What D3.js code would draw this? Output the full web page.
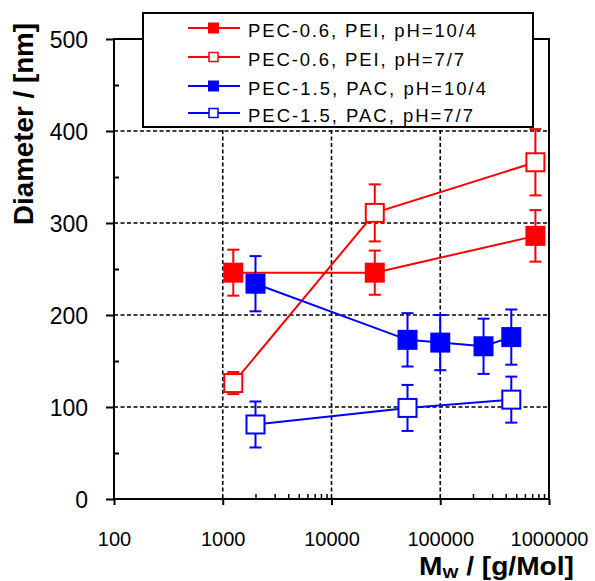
<!DOCTYPE html>
<html>
<head>
<meta charset="utf-8">
<script src="https://d3js.org/d3.v7.min.js"></script>
<style>
  html, body { margin: 0; padding: 0; background: #fff; }
  svg { display: block; font-family: "Liberation Sans", Arial, sans-serif; }
</style>
</head>
<body>
<svg id="chart" width="595" height="581"></svg>
<script>
// ---- Data ----
const seriesNames = ["PEC-0.6, PEI, pH=10/4", "PEC-0.6, PEI, pH=7/7", "PEC-1.5, PAC, pH=10/4", "PEC-1.5, PAC, pH=7/7"];
const mw1 = [1250, 25000, 750000];
const d1  = [246, 246, 286];
const e1  = [25, 24, 28];
const mw2 = [1250, 25000, 750000];
const d2  = [126, 311, 366];
const e2  = [12, 31, 36];
const mw3 = [2000, 50000, 100000, 250000, 450000];
const d3v = [234, 173, 170, 166, 176];
const e3  = [30, 29, 30, 30, 30];
const mw4 = [2000, 50000, 450000];
const d4  = [81, 99, 108];
const e4  = [25, 25, 25];
const xTicks = [100, 1000, 10000, 100000, 1000000];
const yTicks = [0, 100, 200, 300, 400, 500];
const xTickLabels = ["100", "1000", "10000", "100000", "1000000"];

const series = [
  {name: seriesNames[0], x: mw1, y: d1, e: e1, color: "#ff0000", filled: true},
  {name: seriesNames[1], x: mw2, y: d2, e: e2, color: "#ff0000", filled: false},
  {name: seriesNames[2], x: mw3, y: d3v, e: e3, color: "#0000ff", filled: true},
  {name: seriesNames[3], x: mw4, y: d4, e: e4, color: "#0000ff", filled: false}
];

// ---- Layout ----
const L = 114, R = 549, T = 39, B = 499;
const svg = d3.select("#chart");
const x = d3.scaleLog().domain([100, 1000000]).range([L, R]);
const y = d3.scaleLinear().domain([0, 500]).range([B, T]);

// grid
const grid = svg.append("g").attr("stroke", "#000").attr("stroke-width", 1.6).attr("stroke-dasharray", "4,2.5");
[1000, 10000, 100000].forEach(v => {
  grid.append("line").attr("x1", x(v)).attr("x2", x(v)).attr("y1", T).attr("y2", B);
});
[100, 200, 300, 400].forEach(v => {
  grid.append("line").attr("x1", L).attr("x2", R).attr("y1", y(v)).attr("y2", y(v));
});

// frame
svg.append("rect").attr("x", L).attr("y", T).attr("width", R - L).attr("height", B - T)
  .attr("fill", "none").attr("stroke", "#000").attr("stroke-width", 2);

// y axis
const yAxis = d3.axisLeft(y).tickValues(yTicks).tickSize(8).tickFormat(d3.format("d")).tickPadding(26);
const gy = svg.append("g").attr("transform", `translate(${L},0)`).call(yAxis);
gy.select(".domain").remove();
gy.selectAll(".tick line").attr("stroke", "#000").attr("stroke-width", 2);
gy.selectAll(".tick text").attr("font-size", 23).attr("fill", "#000")
  .attr("font-family", "'Liberation Sans', Arial, sans-serif").attr("x", -26).attr("dy", "0.36em");
// y minor (inward)
const yMinor = d3.axisRight(y).tickValues([50, 150, 250, 350, 450]).tickSize(5).tickFormat("");
const gym = svg.append("g").attr("transform", `translate(${L},0)`).call(yMinor);
gym.select(".domain").remove();
gym.selectAll(".tick line").attr("stroke", "#000").attr("stroke-width", 2);

// x axis
const xAxis = d3.axisBottom(x).tickValues(xTicks).tickSize(6).tickFormat((d, i) => xTickLabels[i]).tickPadding(26);
const gx = svg.append("g").attr("transform", `translate(0,${B})`).call(xAxis);
gx.select(".domain").remove();
gx.selectAll(".tick line").attr("stroke", "#000").attr("stroke-width", 2);
gx.selectAll(".tick text").attr("font-size", 20).attr("fill", "#000")
  .attr("font-family", "'Liberation Sans', Arial, sans-serif").attr("y", 47).attr("dy", 0);
// x minor ticks (inward) in visible decades
const xMinorVals = [];
[1000, 100000].forEach(base => { for (let k = 2; k <= 9; k++) xMinorVals.push(base * k); });
const xMinor = d3.axisTop(x).tickValues(xMinorVals).tickSize(5).tickFormat("");
const gxm = svg.append("g").attr("transform", `translate(0,${B})`).call(xMinor);
gxm.select(".domain").remove();
gxm.selectAll(".tick line").attr("stroke", "#000").attr("stroke-width", 1.5);

// series
const line = d3.line().x(d => x(d[0])).y(d => y(d[1]));
const capW = 6;
series.forEach(s => {
  const pts = s.x.map((v, i) => [v, s.y[i], s.e[i]]);
  const g = svg.append("g");
  g.append("path").attr("d", line(pts)).attr("fill", "none").attr("stroke", s.color).attr("stroke-width", 2);
  pts.forEach(p => {
    const cx = x(p[0]), yt = y(p[1] + p[2]), yb = y(p[1] - p[2]);
    g.append("line").attr("x1", cx).attr("x2", cx).attr("y1", yt).attr("y2", yb).attr("stroke", s.color).attr("stroke-width", 2);
    g.append("line").attr("x1", cx - capW).attr("x2", cx + capW).attr("y1", yt).attr("y2", yt).attr("stroke", s.color).attr("stroke-width", 2);
    g.append("line").attr("x1", cx - capW).attr("x2", cx + capW).attr("y1", yb).attr("y2", yb).attr("stroke", s.color).attr("stroke-width", 2);
  });
  pts.forEach(p => {
    const cx = x(p[0]), cy = y(p[1]);
    if (s.filled) {
      g.append("rect").attr("x", cx - 10).attr("y", cy - 10).attr("width", 20).attr("height", 20).attr("fill", s.color);
    } else {
      g.append("rect").attr("x", cx - 9).attr("y", cy - 9).attr("width", 18).attr("height", 18)
        .attr("fill", "#fff").attr("stroke", s.color).attr("stroke-width", 2);
    }
  });
});

// legend
const lg = svg.append("g");
lg.append("rect").attr("x", 143).attr("y", 13).attr("width", 390).attr("height", 114)
  .attr("fill", "#fff").attr("stroke", "#000").attr("stroke-width", 2);
const rowY = [28, 57, 86, 113];
const textLens = [228, 216, 238, 225];
series.forEach((s, i) => {
  const cy = rowY[i];
  lg.append("line").attr("x1", 188).attr("x2", 240).attr("y1", cy).attr("y2", cy).attr("stroke", s.color).attr("stroke-width", 2);
  if (s.filled) {
    lg.append("rect").attr("x", 208).attr("y", cy - 5.5).attr("width", 11).attr("height", 11).attr("fill", s.color);
  } else {
    lg.append("rect").attr("x", 209).attr("y", cy - 4.5).attr("width", 9).attr("height", 9)
      .attr("fill", "#fff").attr("stroke", s.color).attr("stroke-width", 1.5);
  }
  lg.append("text").attr("x", 248).attr("y", cy + 8.5).attr("font-size", 18.5).attr("fill", "#000")
    .attr("textLength", textLens[i]).attr("lengthAdjust", "spacing").text(s.name);
});

// axis titles
svg.append("text").attr("transform", "translate(33,124) rotate(-90)").attr("text-anchor", "middle")
  .attr("font-size", 27).attr("font-weight", "bold").attr("fill", "#000")
  .attr("textLength", 202).attr("lengthAdjust", "spacingAndGlyphs").text("Diameter / [nm]");
const xt = svg.append("text").attr("x", 419).attr("y", 575).attr("font-size", 25).attr("font-weight", "bold").attr("fill", "#000")
  .attr("textLength", 155).attr("lengthAdjust", "spacingAndGlyphs");
xt.append("tspan").text("M");
xt.append("tspan").attr("font-size", 15).attr("dy", 3).text("W");
xt.append("tspan").attr("dy", -3).text(" / [g/Mol]");
</script>
</body>
</html>
